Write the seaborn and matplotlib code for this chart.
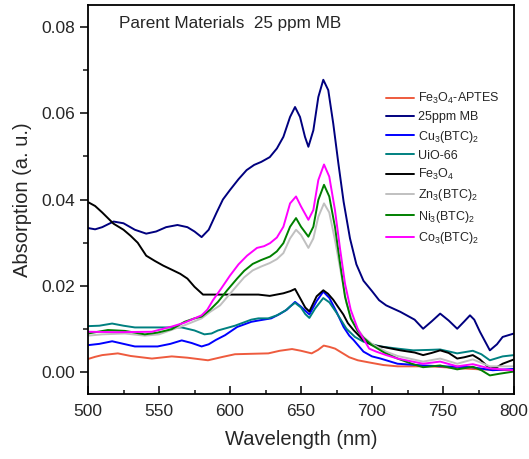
import numpy as np
import pandas as pd
import matplotlib
matplotlib.use("Agg")
import matplotlib.pyplot as plt
import seaborn as sns
from matplotlib.ticker import MultipleLocator

sns.set_style("ticks")
plt.rcParams['font.family'] = ['Liberation Sans', 'DejaVu Sans']
plt.rcParams['mathtext.fontset'] = 'custom'
plt.rcParams['mathtext.rm'] = 'Liberation Sans'
plt.rcParams['mathtext.it'] = 'Liberation Sans:italic'
plt.rcParams['mathtext.default'] = 'regular'

# ---------------- data ----------------
apt_wl = [500, 505, 510, 521, 530, 545, 559, 570, 584.5, 595, 603.5, 615, 627, 635, 643.7, 650,
          657.5, 662, 666, 670, 674, 679, 684, 690, 698, 708, 718, 741, 760, 776, 800]
apt_ab = [0.0031, 0.0036, 0.0040, 0.0044, 0.0038, 0.0032, 0.0037, 0.0034, 0.0028, 0.0036, 0.0042,
          0.0043, 0.0044, 0.0050, 0.0054, 0.0050, 0.0044, 0.0052, 0.0062, 0.0059, 0.0055, 0.0045,
          0.0035, 0.0028, 0.0023, 0.0017, 0.0014, 0.0014, 0.0010, 0.0007, 0.0005]

mb_wl = [500, 505, 510, 518, 525, 533, 541, 548, 555, 563, 570, 575, 580, 585, 590.6, 595, 600,
         606, 611.7, 617, 622, 628, 633, 637.6, 642.3, 645.8, 649.3, 652.8, 655.2, 658.7, 662.2,
         665.7, 669.2, 672.7, 676.3, 680, 684.5, 689, 694, 700, 705, 710, 720, 730, 736, 742,
         748, 754, 760, 765, 769, 772, 776, 783, 788, 792, 800]
mb_ab = [0.0334, 0.0331, 0.0336, 0.0349, 0.0345, 0.0330, 0.0321, 0.0326, 0.0336, 0.0341, 0.0336,
         0.0326, 0.0313, 0.0330, 0.0370, 0.0400, 0.0422, 0.0447, 0.0468, 0.0480, 0.0487, 0.0498,
         0.0518, 0.0545, 0.0591, 0.0614, 0.0591, 0.0545, 0.0522, 0.0560, 0.0637, 0.0677, 0.0653,
         0.0576, 0.0484, 0.0395, 0.0310, 0.0250, 0.0212, 0.0188, 0.0167, 0.0155, 0.0140, 0.0122,
         0.0101, 0.0118, 0.0136, 0.0120, 0.0101, 0.0118, 0.0132, 0.0122, 0.0094, 0.0051, 0.0065,
         0.0082, 0.0090]

cu_wl = [500, 508, 517, 525, 533, 549, 558, 566, 573, 580, 585, 590, 596.5, 605, 615, 620, 629,
         635, 640, 645.8, 650, 655.9, 661, 665.7, 670, 675, 680, 684, 687, 694, 700, 706, 718, 736,
         750, 770, 785, 800]
cu_ab = [0.0063, 0.0066, 0.0072, 0.0066, 0.0060, 0.0060, 0.0066, 0.0074, 0.0068, 0.0060, 0.0065,
         0.0075, 0.0086, 0.0105, 0.0117, 0.0120, 0.0125, 0.0135, 0.0145, 0.0163, 0.0152, 0.0134,
         0.0165, 0.0187, 0.0172, 0.0140, 0.0105, 0.0085, 0.0075, 0.0048, 0.0037, 0.0032, 0.0020,
         0.0016, 0.0014, 0.0012, 0.0005, 0.0008]

uio_wl = [500, 508, 517, 525, 533, 550, 566, 575, 582, 587, 591.5, 597, 603.5, 615, 620, 627, 633,
          639, 642.5, 645.8, 650, 653, 655.9, 660, 665.7, 670, 675, 682, 688, 694, 700, 706, 718,
          729, 740, 748, 760, 771, 777, 783, 792, 800]
uio_ab = [0.0107, 0.0108, 0.0113, 0.0108, 0.0104, 0.0104, 0.0104, 0.0097, 0.0088, 0.0090, 0.0097,
          0.0102, 0.0108, 0.0122, 0.0125, 0.0125, 0.0132, 0.0143, 0.0153, 0.0161, 0.0150, 0.0135,
          0.0126, 0.0148, 0.0172, 0.0162, 0.0138, 0.0101, 0.0082, 0.0071, 0.0065, 0.0060, 0.0055,
          0.0051, 0.0052, 0.0053, 0.0044, 0.0050, 0.0042, 0.0028, 0.0037, 0.0040]

fe_wl = [500, 505, 510, 518, 525, 530, 535, 541, 547, 553, 560, 565, 570, 575, 581, 590, 600, 610,
         620, 628, 637.6, 642.5, 645.8, 650, 653, 655.9, 661, 665.7, 669, 672.7, 676, 679.8, 683,
         687, 694, 700, 706, 720, 730, 736, 742, 748, 754, 760, 765, 771, 776, 783, 788, 792, 800]
fe_ab = [0.0394, 0.0385, 0.0370, 0.0344, 0.0330, 0.0316, 0.0300, 0.0270, 0.0258, 0.0247, 0.0236,
         0.0228, 0.0217, 0.0198, 0.0180, 0.0180, 0.0180, 0.0180, 0.0180, 0.0177, 0.0183, 0.0188,
         0.0193, 0.0168, 0.0150, 0.0141, 0.0176, 0.0190, 0.0182, 0.0168, 0.0152, 0.0134, 0.0114,
         0.0098, 0.0074, 0.0063, 0.0060, 0.0051, 0.0046, 0.0040, 0.0045, 0.0051, 0.0045, 0.0032,
         0.0035, 0.0040, 0.0030, 0.0009, 0.0012, 0.0020, 0.0030]

zn_wl = [500, 510, 526, 540, 550, 568, 580, 586, 593, 599, 605, 610, 616, 622, 628, 633, 637.6,
         642.3, 646.5, 650, 655.2, 658.7, 662.2, 666.2, 669.9, 673.9, 678.6, 682, 686, 690, 694, 700,
         710, 718, 736, 748, 760, 771, 783, 800]
zn_ab = [0.0085, 0.0088, 0.0090, 0.0085, 0.0088, 0.0109, 0.0125, 0.0140, 0.0155, 0.0178, 0.0201,
         0.0220, 0.0236, 0.0245, 0.0253, 0.0262, 0.0276, 0.0310, 0.0330, 0.0318, 0.0288, 0.0310,
         0.0360, 0.0391, 0.0370, 0.0307, 0.0222, 0.0160, 0.0120, 0.0100, 0.0082, 0.0066, 0.0048,
         0.0038, 0.0025, 0.0032, 0.0020, 0.0030, 0.0014, 0.0014]

ni_wl = [500, 507, 514, 526, 540, 549, 559, 568, 575, 580, 586, 591.5, 598, 605, 610, 616, 622,
         628.2, 633, 637.6, 642.3, 646.5, 650, 655.2, 658.7, 662.2, 666.2, 669.9, 673.9, 677.5, 681,
         685, 690, 694, 700, 709, 718, 728, 736, 748, 760, 771, 777, 783, 790, 800]
ni_ab = [0.0090, 0.0094, 0.0098, 0.0096, 0.0088, 0.0092, 0.0100, 0.0117, 0.0125, 0.0129, 0.0145,
         0.0163, 0.0190, 0.0217, 0.0235, 0.0251, 0.0260, 0.0268, 0.0280, 0.0299, 0.0337, 0.0357,
         0.0337, 0.0314, 0.0337, 0.0399, 0.0434, 0.0407, 0.0337, 0.0253, 0.0175, 0.0125, 0.0095,
         0.0080, 0.0063, 0.0045, 0.0032, 0.0020, 0.0012, 0.0016, 0.0007, 0.0013, 0.0005, -0.0007,
         -0.0003, 0.0002]

co_wl = [500, 521, 545, 559, 568, 575, 580, 584, 588, 594, 600, 606, 612, 619, 624, 628.2, 633,
         637.6, 642.3, 646.5, 650, 655.2, 658.7, 662.2, 666.2, 669.9, 673.9, 677.5, 681, 685, 690,
         698, 703, 710, 718, 736, 748, 760, 771, 783, 800]
co_ab = [0.0094, 0.0093, 0.0094, 0.0106, 0.0115, 0.0125, 0.0132, 0.0145, 0.0167, 0.0195, 0.0224,
         0.0250, 0.0270, 0.0288, 0.0292, 0.0299, 0.0312, 0.0337, 0.0391, 0.0407, 0.0384, 0.0353,
         0.0376, 0.0445, 0.0481, 0.0453, 0.0376, 0.0286, 0.0205, 0.0145, 0.0100, 0.0055, 0.0048,
         0.0040, 0.0032, 0.0020, 0.0025, 0.0014, 0.0019, 0.0009, 0.0005]

labels = [r'Fe$_3$O$_4$-APTES', '25ppm MB', r'Cu$_3$(BTC)$_2$', 'UiO-66', r'Fe$_3$O$_4$',
          r'Zn$_3$(BTC)$_2$', r'Ni$_3$(BTC)$_2$', r'Co$_3$(BTC)$_2$']
colors = ['#EE5B3E', '#00007F', '#0000FF', '#008080', '#000000', '#C0C0C0', '#008000', '#FF00FF']
series = [(apt_wl, apt_ab), (mb_wl, mb_ab), (cu_wl, cu_ab), (uio_wl, uio_ab), (fe_wl, fe_ab),
          (zn_wl, zn_ab), (ni_wl, ni_ab), (co_wl, co_ab)]

frames = []
for lab, (w, a) in zip(labels, series):
    frames.append(pd.DataFrame({'Wavelength': w, 'Absorption': a, 'Sample': lab}))
df = pd.concat(frames, ignore_index=True)

# ---------------- figure ----------------
fig = plt.figure(figsize=(5.29, 4.59), dpi=100)
ax = fig.add_axes([88/529, (459-394)/459, (514-88)/529, (394-5)/459])

sns.lineplot(data=df, x='Wavelength', y='Absorption', hue='Sample', hue_order=labels,
             palette=dict(zip(labels, colors)), sort=False, estimator=None, lw=1.4, ax=ax)
for ln in ax.get_lines():
    ln.set_solid_joinstyle('round')

ax.set_xlim(500, 800)
ax.set_ylim(-0.005, 0.085)
ax.xaxis.set_major_locator(MultipleLocator(50))
ax.xaxis.set_minor_locator(MultipleLocator(25))
ax.yaxis.set_minor_locator(MultipleLocator(0.01))
ax.set_yticks([0, 0.02, 0.04, 0.06, 0.08])
ax.set_yticklabels(['0.00', '0.02', '0.04', '0.06', '0.08'])

for s in ax.spines.values():
    s.set_linewidth(1.3)
    s.set_color('black')
ax.tick_params(axis='x', which='major', direction='in', length=6, width=1.3, labelsize=12.5, pad=7)
ax.tick_params(axis='x', which='minor', direction='in', length=3, width=1.2)
ax.tick_params(axis='y', which='major', direction='out', length=6, width=1.3, labelsize=12.5, pad=3)
ax.tick_params(axis='y', which='minor', direction='out', length=3.4, width=1.2)

ax.set_xlabel('Wavelength (nm)', fontsize=14.5, labelpad=8)
ax.set_ylabel('Absorption (a. u.)', fontsize=14.5, labelpad=7)

ax.text(0.073, 0.940, 'Parent Materials  25 ppm MB', transform=ax.transAxes,
        fontsize=12.3, va='baseline', ha='left')

ax.legend(loc='upper left', bbox_to_anchor=(0.6995, 0.779), frameon=False, fontsize=9,
          borderpad=0, borderaxespad=0, handlelength=2.25, handletextpad=0.3, labelspacing=0.42)

fig.savefig('out.png', dpi=100)
